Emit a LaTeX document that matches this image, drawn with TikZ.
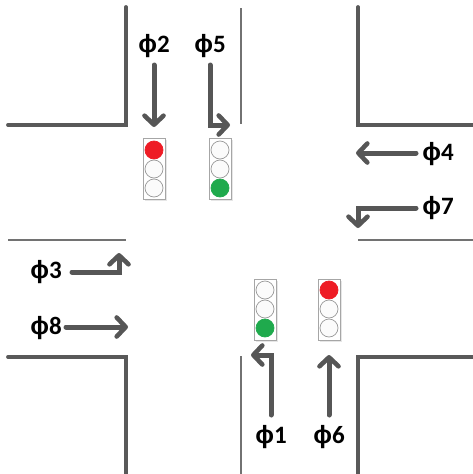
\documentclass[tikz,border=0pt]{standalone}
\usepackage{fontspec}
\setmainfont{Carlito}
\newfontfamily\phifont{Liberation Sans}
\usetikzlibrary{arrows.meta,shadows}
\definecolor{road}{HTML}{595959}
\definecolor{arrowc}{HTML}{565656}
\definecolor{sigred}{HTML}{EE1C25}
\definecolor{siggreen}{HTML}{1FAA4D}
\newcommand{\ph}[1]{{\phifont ϕ}#1}
\tikzset{
  roadline/.style={draw=road,line width=3.8pt,line cap=round,line join=miter},
  centerline/.style={draw=road!85,line width=1.1pt},
  movearrow/.style={draw=arrowc,line width=5pt,line cap=round,line join=miter,-{Straight Barb[length=9pt,width=19pt,line width=4.6pt,line cap=round,line join=round]}},
  phase/.style={font=\bfseries\fontsize{25}{25}\selectfont,text=black,inner sep=0pt},
  housing/.style={draw=black!35,fill=white,line width=.8pt,minimum width=22pt,minimum height=61pt,inner sep=0pt,drop shadow={opacity=.2,shadow xshift=1.5pt,shadow yshift=-1.5pt}},
  lamp/.style={circle,draw=black!40,line width=.7pt,fill=black!1.5,minimum size=18pt,inner sep=0pt},
  redlamp/.style={lamp,fill=sigred,draw=sigred},
  greenlamp/.style={lamp,fill=siggreen,draw=siggreen},
}
\begin{document}
\begin{tikzpicture}[x=1pt,y=-1pt]
\useasboundingbox (0,0) rectangle (473,474);
% kerbs
\coordinate (tlA) at (126,7); \coordinate (tlB) at (126,125); \coordinate (tlC) at (8,125);
\coordinate (trA) at (358,7); \coordinate (trB) at (358,125); \coordinate (trC) at (473,125);
\coordinate (blA) at (8,357); \coordinate (blB) at (126,357); \coordinate (blC) at (126,474);
\coordinate (brA) at (358,474); \coordinate (brB) at (358,357); \coordinate (brC) at (473,357);
\draw[roadline] (tlA) -- (tlB) -- (tlC);
\draw[roadline] (trA) -- (trB) -- (trC);
\draw[roadline] (blA) -- (blB) -- (blC);
\draw[roadline] (brA) -- (brB) -- (brC);
% centre lines
\coordinate (cnA) at (241,8); \coordinate (cnB) at (241,124);
\coordinate (csA) at (241,356); \coordinate (csB) at (241,474);
\coordinate (cwA) at (8,240); \coordinate (cwB) at (126,240);
\coordinate (ceA) at (358,240); \coordinate (ceB) at (473,240);
\draw[centerline] (cnA) -- (cnB);
\draw[centerline] (csA) -- (csB);
\draw[centerline] (cwA) -- (cwB);
\draw[centerline] (ceA) -- (ceB);
% signals
\node[housing] (s1) at (154,168.5) {};
\node[redlamp] (s1a) at (154,150) {};
\node[lamp] (s1b) at (154,169) {};
\node[lamp] (s1c) at (154,188) {};
\node[housing] (s2) at (220,168.5) {};
\node[lamp] (s2a) at (220,150) {};
\node[lamp] (s2b) at (220,169) {};
\node[greenlamp] (s2c) at (220,188) {};
\node[housing] (s3) at (265,309.5) {};
\node[lamp] (s3a) at (265,290) {};
\node[lamp] (s3b) at (265,309) {};
\node[greenlamp] (s3c) at (265,328) {};
\node[housing] (s4) at (329,309.5) {};
\node[redlamp] (s4a) at (329,290) {};
\node[lamp] (s4b) at (329,309) {};
\node[lamp] (s4c) at (329,328) {};
% labels
\node[phase] (p2) at (154,46) {\ph{2}};
\node[phase] (p5) at (210,46) {\ph{5}};
\node[phase] (p4) at (438,154) {\ph{4}};
\node[phase] (p7) at (438,208) {\ph{7}};
\node[phase] (p3) at (46,272) {\ph{3}};
\node[phase] (p8) at (46,328) {\ph{8}};
\node[phase] (p1) at (271,437) {\ph{1}};
\node[phase] (p6) at (329,437) {\ph{6}};
% arrows
\coordinate (a2s) at (154,65); \coordinate (a2e) at (154,127);
\coordinate (a5s) at (210,65); \coordinate (a5b) at (210,125); \coordinate (a5e) at (230,125);
\coordinate (a4s) at (416,153); \coordinate (a4e) at (356,153);
\coordinate (a7s) at (416,208); \coordinate (a7b) at (358,208); \coordinate (a7e) at (358,228);
\coordinate (a3s) at (72,272); \coordinate (a3b) at (119,272); \coordinate (a3e) at (119,253);
\coordinate (a8s) at (66,327); \coordinate (a8e) at (128,327);
\coordinate (a1s) at (271,415); \coordinate (a1b) at (271,355); \coordinate (a1e) at (251,355);
\coordinate (a6s) at (329,415); \coordinate (a6e) at (329,355);
\draw[movearrow] (a2s) -- (a2e);
\draw[movearrow] (a5s) -- (a5b) -- (a5e);
\draw[movearrow] (a4s) -- (a4e);
\draw[movearrow] (a7s) -- (a7b) -- (a7e);
\draw[movearrow] (a3s) -- (a3b) -- (a3e);
\draw[movearrow] (a8s) -- (a8e);
\draw[movearrow] (a1s) -- (a1b) -- (a1e);
\draw[movearrow] (a6s) -- (a6e);
\end{tikzpicture}
\end{document}
